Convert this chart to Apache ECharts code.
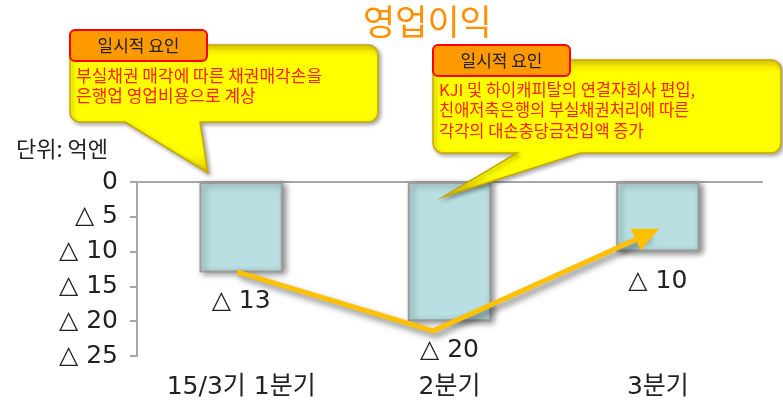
<!DOCTYPE html>
<html>
<head>
<meta charset="utf-8">
<script src="https://cdn.jsdelivr.net/npm/echarts@6/dist/echarts.min.js"></script>
<style>
  html, body { margin: 0; padding: 0; background: #fff; }
  #chart { width: 783px; height: 404px; }
</style>
</head>
<body>
<div id="chart"></div>
<script>
// 분기별 영업이익 (단위: 억엔, 손실)
const categories = ['15/3기 1분기', '2분기', '3분기'];
const lossValues = [13, 20, 10];
const yTicks = [0, 5, 10, 15, 20, 25];

// 추세 화살표 (카테고리 축 기준 위치, 값)
const trendX = [0.48, 1.42, 2.45];
const trendY = [12.9, 21.4, 7.5];

const FONT = "'Noto Sans CJK KR', 'Noto Sans', sans-serif";
const NUM_FONT = "'DejaVu Sans', 'Noto Sans CJK KR', sans-serif";
const AXIS_GRAY = '#a6a6a6';

const chart = echarts.init(document.getElementById('chart'));

// 둥근 사각형 + 아래쪽 꼬리 외곽선
function bubblePoints(x0, y0, x1, y1, r, tail) {
  const pts = [];
  const arc = (cx, cy, a0) => {
    for (let k = 0; k <= 6; k++) {
      const a = (a0 + k * 15) * Math.PI / 180;
      pts.push([cx + r * Math.cos(a), cy + r * Math.sin(a)]);
    }
  };
  arc(x0 + r, y0 + r, 180);
  arc(x1 - r, y0 + r, 270);
  arc(x1 - r, y1 - r, 0);
  pts.push([tail[1], y1], tail[2], [tail[0], y1]);
  arc(x0 + r, y1 - r, 90);
  return pts;
}

// 말풍선 (노란 박스 + 꼬리)
function callout(box, tail, head, lines) {
  return [
    {
      type: 'polygon',
      z: 100,
      shape: { points: bubblePoints(box[0], box[1], box[2], box[3], 10, tail) },
      style: {
        fill: {
          type: 'linear', x: 0, y: 0, x2: 0, y2: 1,
          colorStops: [
            { offset: 0, color: '#eed800' },
            { offset: 0.1, color: '#ffff00' },
            { offset: 0.85, color: '#ffff00' },
            { offset: 1, color: '#e2c000' }
          ]
        },
        stroke: '#c9a600',
        lineWidth: 1.5,
        shadowColor: 'rgba(0,0,0,0.35)',
        shadowBlur: 4,
        shadowOffsetX: 2,
        shadowOffsetY: 2
      }
    },
    {
      type: 'rect',
      z: 101,
      shape: { x: head.x, y: head.y, width: 137, height: 31, r: 5 },
      style: { fill: '#ff9900', stroke: '#ff0000', lineWidth: 2 }
    },
    {
      type: 'text',
      z: 102,
      x: head.x + 68.5,
      y: head.y + 16,
      style: {
        text: '일시적 요인', font: '17px ' + FONT, fill: '#222',
        align: 'center', verticalAlign: 'middle'
      }
    },
    {
      type: 'text',
      z: 102,
      x: lines.x,
      y: lines.y,
      style: {
        text: lines.text, font: lines.size + 'px ' + FONT, fill: '#ff2000',
        lineHeight: 20.5
      }
    }
  ];
}

const option = {
  animation: false,
  textStyle: { fontFamily: FONT },
  title: [
    {
      text: '영업이익', left: 358, top: -1,
      textStyle: { fontSize: 35, fontWeight: 'normal', color: '#ff9000', fontFamily: FONT }
    },
    {
      text: '단위: 억엔', left: 11, top: 133,
      textStyle: { fontSize: 22, fontWeight: 'normal', color: '#222', fontFamily: FONT }
    }
  ],
  grid: { left: 137, right: 21, top: 182, bottom: 48, containLabel: false },
  xAxis: [
    {
      type: 'category', data: categories, position: 'bottom',
      axisLine: { show: false }, axisTick: { show: false },
      axisLabel: { fontSize: 25, color: '#222', margin: 19, fontFamily: NUM_FONT }
    },
    {
      type: 'category', data: categories, position: 'top',
      axisLine: { lineStyle: { color: AXIS_GRAY, width: 2 } },
      axisTick: { inside: true, length: 6, lineStyle: { color: AXIS_GRAY, width: 2 } },
      axisLabel: { show: false }
    },
    { type: 'value', min: 0, max: 3, show: false }
  ],
  yAxis: {
    type: 'value', inverse: true, min: 0, max: 25, interval: 5,
    splitLine: { show: false },
    axisLine: { show: true, lineStyle: { color: AXIS_GRAY, width: 2 } },
    axisTick: { show: true, length: 7, lineStyle: { color: AXIS_GRAY, width: 2 } },
    axisLabel: {
      fontSize: 25, color: '#222', margin: 19, fontFamily: NUM_FONT,
      formatter: v => (yTicks.indexOf(v) > 0 ? '△ ' + v : String(v))
    }
  },
  series: [
    {
      type: 'bar', xAxisIndex: 0, data: lossValues, barWidth: '40%',
      itemStyle: {
        color: '#b9dfe3', borderColor: '#9c9c9c', borderWidth: 2,
        shadowColor: 'rgba(0,0,0,0.45)', shadowBlur: 6, shadowOffsetX: 3, shadowOffsetY: 2
      },
      label: {
        show: true, position: 'bottom', distance: 17,
        formatter: p => '△ ' + p.value, fontSize: 25, color: '#222', fontFamily: NUM_FONT
      }
    },
    {
      type: 'line', xAxisIndex: 2, z: 5,
      data: trendX.map((x, i) => ({
        value: [x, trendY[i]],
        symbol: i === trendX.length - 1 ? 'triangle' : 'none'
      })),
      symbolSize: [24, 26],
      symbolRotate: -65,
      itemStyle: { color: '#ffc000' },
      lineStyle: {
        color: '#ffc000', width: 5,
        shadowColor: 'rgba(0,0,0,0.5)', shadowBlur: 6, shadowOffsetX: 3, shadowOffsetY: 4
      },
      label: { show: false },
      silent: true
    }
  ],
  graphic: [].concat(
    callout([70, 45, 378, 122], [125, 200, [208, 173]], { x: 70, y: 30 },
      { x: 76, y: 65, size: 17, text: '부실채권 매각에 따른 채권매각손을\n은행업 영업비용으로 계상' }),
    callout([433, 60, 781, 153], [517, 580, [443, 197]], { x: 433, y: 45 },
      { x: 439, y: 79, size: 16.5, text: 'KJI 및 하이캐피탈의 연결자회사 편입,\n친애저축은행의 부실채권처리에 따른\n각각의 대손충당금전입액 증가' })
  )
};

chart.setOption(option);
</script>
</body>
</html>
